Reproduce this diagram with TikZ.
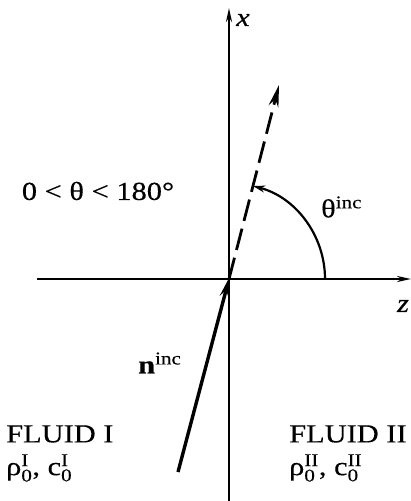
\documentclass[tikz,border=0pt]{standalone}
\usepackage{fontspec}
\setmainfont{Liberation Serif}[FakeStretch=1.17,FakeBold=0.3]
\usetikzlibrary{arrows.meta}
\newcommand{\lbl}[1]{\hbox{\fontsize{18}{18}\selectfont #1}}
\begin{document}
\begin{tikzpicture}[x=1pt,y=-1pt,
  axis/.style={line width=2.2pt,-{Stealth[length=14pt,width=6pt]}},
  inc/.style={line width=3.4pt,-{Stealth[length=20pt,width=9pt]}},
  dsh/.style={line width=2.8pt,dash pattern=on 22pt off 8pt,-{Stealth[length=22pt,width=10pt]}},
  arcst/.style={line width=2.2pt,-{Stealth[length=12pt,width=7pt]}},
  txt/.style={font=\fontsize{26}{28}\selectfont,inner sep=0pt}]
\useasboundingbox (0,0) rectangle (411,501);
\coordinate (O) at (229,279);
\coordinate (xb) at (229,501);
\coordinate (xt) at (229,8);
\coordinate (zl) at (37,279);
\coordinate (zr) at (411,279);
\coordinate (ns) at (178,472);
\coordinate (ne) at (279,85);
\draw[axis] (xb) -- (xt);
\draw[axis] (zl) -- (zr);
\draw[inc,shorten >=-2pt] (ns) -- (O);
\draw[dsh] (O) -- (ne);
\draw[arcst] (325,279) arc[start angle=0,end angle=-75.5,radius=96];
\node[txt,font=\fontsize{26}{28}\selectfont\itshape] (xl) at (243,20) {x};
\node[txt,font=\fontsize{26}{28}\selectfont\itshape] (zlab) at (403,306) {z};
\node[txt] (range) at (98,191) {0 < θ < 180°};
\node[txt,anchor=west] (th) at (321,207) {θ$^{\lbl{inc}}$};
\node[txt,anchor=west] (n) at (138,363) {\textbf{n}$^{\lbl{inc}}$};
\node[txt,anchor=west] (f1) at (6,434) {FLUID I};
\node[txt,anchor=west] (p1) at (6,468) {$\hbox{ρ}_{\lbl{0}}^{\lbl{I}}$, $\hbox{c}_{\lbl{0}}^{\lbl{I}}$};
\node[txt,anchor=west] (f2) at (289,434) {FLUID II};
\node[txt,anchor=west] (p2) at (289,468) {$\hbox{ρ}_{\lbl{0}}^{\lbl{II}}$, $\hbox{c}_{\lbl{0}}^{\lbl{II}}$};
\end{tikzpicture}
\end{document}
